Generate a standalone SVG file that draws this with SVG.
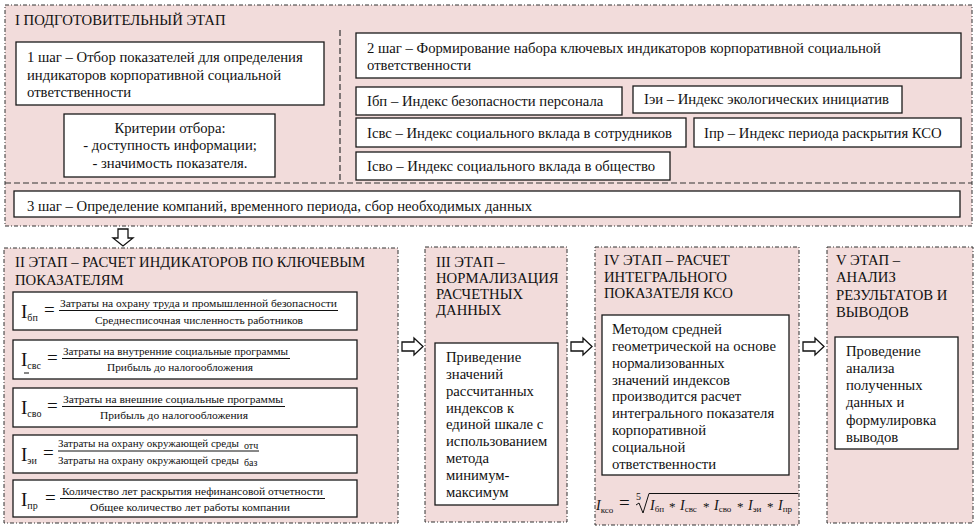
<svg xmlns="http://www.w3.org/2000/svg" width="979" height="530" viewBox="0 0 979 530">
<defs>
<style>
.stage{fill:#f2dcdb;stroke:#333;stroke-width:1;stroke-dasharray:4 2 1 2}
.div{fill:none;stroke:#333;stroke-width:1.2;stroke-dasharray:6 3}
.box{fill:#fff;stroke:#1a1a1a;stroke-width:1.3}
.t{font-family:"Liberation Serif","Times New Roman","DejaVu Serif",serif;font-size:14.7px;fill:#111}
.s{font-family:"Liberation Serif","Times New Roman","DejaVu Serif",serif;font-size:14.7px;fill:#111}
.f{font-family:"Liberation Serif","Times New Roman","DejaVu Serif",serif;font-size:11.4px;fill:#111}
.fb{font-family:"Liberation Serif","Times New Roman","DejaVu Serif",serif;font-size:19px;fill:#111}
.fs{font-family:"Liberation Serif","Times New Roman","DejaVu Serif",serif;font-size:10px;fill:#111}
.fi{font-family:"Liberation Serif","Times New Roman","DejaVu Serif",serif;font-size:14px;font-style:italic;fill:#111}
.fo{font-family:"Liberation Serif","Times New Roman","DejaVu Serif",serif;font-size:9px;font-style:normal;fill:#111}
.fa{font-family:"Liberation Serif","Times New Roman","DejaVu Serif",serif;font-size:13px;fill:#111}
.fl{stroke:#111;stroke-width:1}
.arr{fill:#fff;stroke:#111;stroke-width:1.3;stroke-linejoin:miter}
</style>
</defs>

<g id="stage1">
<rect class="stage" x="5" y="5" width="967" height="221"/>
<line class="div" x1="5" y1="183" x2="972" y2="183"/>
<line class="div" x1="340" y1="30" x2="340" y2="183"/>
<text class="t" x="15" y="25">I ПОДГОТОВИТЕЛЬНЫЙ ЭТАП</text>
</g>

<g id="step1">
<rect class="box" x="16" y="42" width="308" height="63"/>
<text class="t" x="27" y="62">1 шаг – Отбор показателей для определения</text>
<text class="t" x="27" y="80">индикаторов корпоративной социальной</text>
<text class="t" x="27" y="97">ответственности</text>
</g>

<g id="criteria">
<rect class="box" x="64" y="114" width="211" height="63"/>
<text class="t" x="170" y="133" text-anchor="middle">Критерии отбора:</text>
<text class="t" x="170" y="150" text-anchor="middle">- доступность информации;</text>
<text class="t" x="170" y="168" text-anchor="middle">- значимость показателя.</text>
</g>

<g id="step2">
<rect class="box" x="356" y="33" width="605" height="45"/>
<text class="s" x="367" y="53">2 шаг – Формирование набора ключевых индикаторов корпоративной социальной</text>
<text class="s" x="367" y="70">ответственности</text>
</g>

<g id="idx-bp">
<rect class="box" x="356" y="87" width="266" height="28"/>
<text class="s" x="367" y="106">Iбп – Индекс безопасности персонала</text>
</g>
<g id="idx-ei">
<rect class="box" x="633" y="86" width="269" height="27"/>
<text class="s" x="644" y="104">Iэи – Индекс экологических инициатив</text>
</g>
<g id="idx-svs">
<rect class="box" x="356" y="118" width="330" height="29"/>
<text class="s" x="367" y="138">Iсвс – Индекс социального вклада в сотрудников</text>
</g>
<g id="idx-pr">
<rect class="box" x="694" y="118" width="267" height="29"/>
<text class="s" x="704" y="138">Iпр – Индекс периода раскрытия КСО</text>
</g>
<g id="idx-svo">
<rect class="box" x="356" y="152" width="314" height="28"/>
<text class="s" x="367" y="171">Iсво – Индекс социального вклада в общество</text>
</g>

<g id="step3">
<rect class="box" x="14" y="191" width="946" height="26"/>
<text class="s" x="27" y="211">3 шаг – Определение компаний, временного периода, сбор необходимых данных</text>
</g>

<g id="stage2">
<rect class="stage" x="4" y="248" width="394" height="275"/>
<text class="t" x="15" y="267">II ЭТАП – РАСЧЕТ ИНДИКАТОРОВ ПО КЛЮЧЕВЫМ</text>
<text class="t" x="15" y="285">ПОКАЗАТЕЛЯМ</text>
</g>

<g id="f-bp">
<rect class="box" x="13" y="292" width="344" height="38"/>
<text class="fb" x="21" y="318">I<tspan class="fs" dy="3">бп</tspan></text>
<text class="fb" x="44" y="316">=</text>
<text class="f" x="60" y="307" textLength="277" lengthAdjust="spacingAndGlyphs">Затраты на охрану труда и промышленной безопасности</text>
<line class="fl" x1="59" y1="310.5" x2="338" y2="310.5"/>
<text class="f" x="95" y="324" textLength="208" lengthAdjust="spacingAndGlyphs">Среднесписочная численность работников</text>
</g>

<g id="f-svs">
<rect class="box" x="13" y="340" width="344" height="39"/>
<text class="fb" x="21" y="366">I<tspan class="fs" dy="3">свс</tspan></text>
<line class="fl" x1="24" y1="373" x2="29" y2="373"/>
<text class="fb" x="47" y="364">=</text>
<text class="f" x="63" y="355" textLength="225" lengthAdjust="spacingAndGlyphs">Затраты на внутренние социальные программы</text>
<line class="fl" x1="62" y1="358.5" x2="290" y2="358.5"/>
<text class="f" x="107" y="371" textLength="146" lengthAdjust="spacingAndGlyphs">Прибыль до налогообложения</text>
</g>

<g id="f-svo">
<rect class="box" x="13" y="388" width="344" height="39"/>
<text class="fb" x="21" y="414">I<tspan class="fs" dy="3">сво</tspan></text>
<text class="fb" x="47" y="412">=</text>
<text class="f" x="63" y="403" textLength="220" lengthAdjust="spacingAndGlyphs">Затраты на внешние социальные программы</text>
<line class="fl" x1="62" y1="406.5" x2="285" y2="406.5"/>
<text class="f" x="100" y="419" textLength="148" lengthAdjust="spacingAndGlyphs">Прибыль до налогообложения</text>
</g>

<g id="f-ei">
<rect class="box" x="13" y="435" width="344" height="38"/>
<text class="fb" x="21" y="461">I<tspan class="fs" dy="3">эи</tspan></text>
<text class="fb" x="43" y="459">=</text>
<text class="f" x="58" y="447" font-size="10.8" textLength="181" lengthAdjust="spacingAndGlyphs">Затраты на охрану окружающей среды</text>
<text class="fs" x="244" y="449" font-size="8">отч</text>
<line class="fl" x1="58" y1="451" x2="259" y2="451"/>
<text class="f" x="58" y="464" font-size="10.8" textLength="181" lengthAdjust="spacingAndGlyphs">Затраты на охрану окружающей среды</text>
<text class="fs" x="244" y="466" font-size="8">баз</text>
</g>

<g id="f-pr">
<rect class="box" x="13" y="480" width="344" height="37"/>
<text class="fb" x="21" y="506">I<tspan class="fs" dy="3">пр</tspan></text>
<text class="fb" x="45" y="504">=</text>
<text class="f" x="62" y="495" textLength="261" lengthAdjust="spacingAndGlyphs">Количество лет раскрытия нефинансовой отчетности</text>
<line class="fl" x1="60" y1="498.5" x2="325" y2="498.5"/>
<text class="f" x="90" y="511" textLength="200" lengthAdjust="spacingAndGlyphs">Общее количество лет работы компании</text>
</g>

<g id="stage3">
<rect class="stage" x="425" y="247" width="142" height="275"/>
<text class="t" x="436" y="267">III ЭТАП –</text>
<text class="t" x="436" y="283">НОРМАЛИЗАЦИЯ</text>
<text class="t" x="436" y="299">РАСЧЕТНЫХ</text>
<text class="t" x="436" y="315">ДАННЫХ</text>
<rect class="box" x="435" y="343" width="123" height="162"/>
<text class="t" x="446" y="362">Приведение</text>
<text class="t" x="446" y="379">значений</text>
<text class="t" x="446" y="396">рассчитанных</text>
<text class="t" x="446" y="413">индексов к</text>
<text class="t" x="446" y="429">единой шкале с</text>
<text class="t" x="446" y="446">использованием</text>
<text class="t" x="446" y="463">метода</text>
<text class="t" x="446" y="480">минимум-</text>
<text class="t" x="446" y="497">максимум</text>
</g>

<g id="stage4">
<rect class="stage" x="595" y="247" width="204" height="278"/>
<text class="t" x="604" y="265">IV ЭТАП – РАСЧЕТ</text>
<text class="t" x="604" y="282">ИНТЕГРАЛЬНОГО</text>
<text class="t" x="604" y="298">ПОКАЗАТЕЛЯ КСО</text>
<rect class="box" x="602" y="315" width="187" height="160"/>
<text class="t" x="612" y="334">Методом средней</text>
<text class="t" x="612" y="351">геометрической на основе</text>
<text class="t" x="612" y="368">нормализованных</text>
<text class="t" x="612" y="385">значений индексов</text>
<text class="t" x="612" y="401">производится расчет</text>
<text class="t" x="612" y="418">интегрального показателя</text>
<text class="t" x="612" y="435">корпоративной</text>
<text class="t" x="612" y="452">социальной</text>
<text class="t" x="612" y="469">ответственности</text>
<text class="fi" x="596" y="510" font-size="16">I<tspan class="fo" font-size="9.5" dy="3">ксо</tspan></text>
<text class="fb" x="619" y="509" font-size="16">=</text>
<text class="fs" x="636" y="500" font-size="7.5">5</text>
<path d="M636,505 L639,503 L643,513 L649,493.5 L798,493.5" fill="none" stroke="#111" stroke-width="1"/>
<text class="fi" x="650" y="510">I<tspan class="fo" dy="2">бп</tspan></text>
<text class="fa" x="669" y="511">*</text>
<text class="fi" x="680" y="510">I<tspan class="fo" dy="2">свс</tspan></text>
<text class="fa" x="703" y="511">*</text>
<text class="fi" x="714" y="510">I<tspan class="fo" dy="2">сво</tspan></text>
<text class="fa" x="737" y="511">*</text>
<text class="fi" x="748" y="510">I<tspan class="fo" dy="2">эи</tspan></text>
<text class="fa" x="767" y="511">*</text>
<text class="fi" x="778" y="510">I<tspan class="fo" dy="2">пр</tspan></text>
</g>

<g id="stage5">
<rect class="stage" x="827" y="247" width="146" height="276"/>
<text class="t" x="836" y="265">V ЭТАП –</text>
<text class="t" x="836" y="282">АНАЛИЗ</text>
<text class="t" x="836" y="300">РЕЗУЛЬТАТОВ И</text>
<text class="t" x="836" y="317">ВЫВОДОВ</text>
<rect class="box" x="835" y="337" width="123" height="112"/>
<text class="t" x="846" y="356">Проведение</text>
<text class="t" x="846" y="373">анализа</text>
<text class="t" x="846" y="390">полученных</text>
<text class="t" x="846" y="407">данных и</text>
<text class="t" x="846" y="425">формулировка</text>
<text class="t" x="846" y="442">выводов</text>
</g>

<g id="connectors">
<path class="arr" d="M118,229 L128,229 L128,238 L133,238 L123,246 L113,238 L118,238 Z"/>
<path class="arr" d="M402,342 L414,342 L414,338 L423,346.5 L414,355 L414,351 L402,351 Z"/>
<path class="arr" d="M571,342 L583,342 L583,338 L592,346.5 L583,355 L583,351 L571,351 Z"/>
<path class="arr" d="M803,342 L815,342 L815,338 L824,346.5 L815,355 L815,351 L803,351 Z"/>
</g>
</svg>
